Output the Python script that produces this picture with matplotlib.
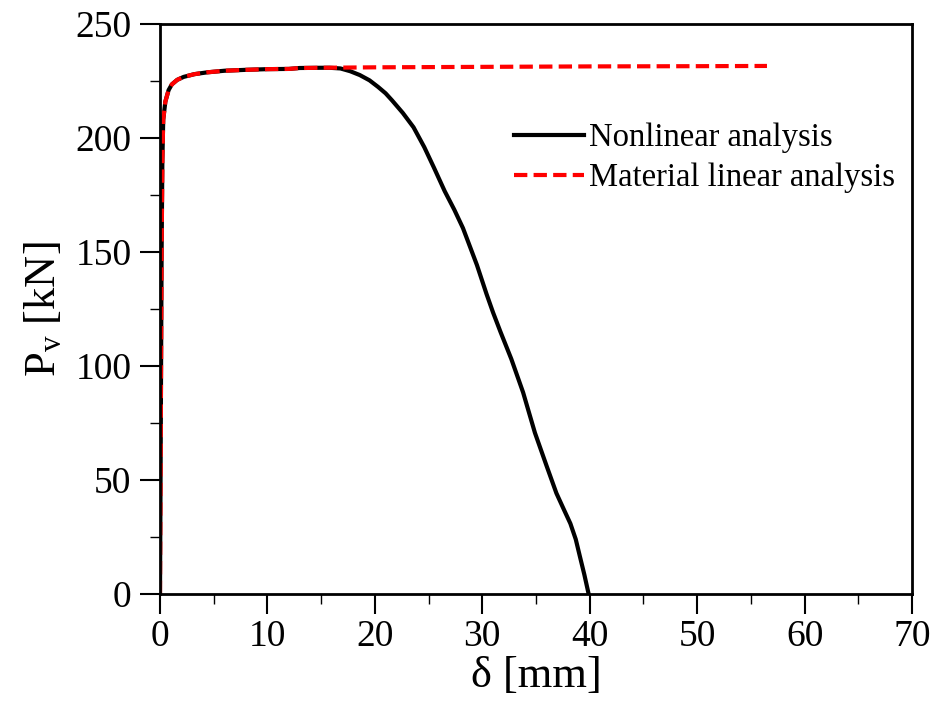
import matplotlib.pyplot as plt
from matplotlib.ticker import MultipleLocator

plt.rcParams['font.family'] = ['Liberation Serif', 'DejaVu Serif']
plt.rcParams['mathtext.fontset'] = 'custom'
plt.rcParams['mathtext.rm'] = 'Liberation Serif'
plt.rcParams['mathtext.it'] = 'Liberation Serif:italic'

# Nonlinear analysis
x_nl = [0, 0.05, 0.1, 0.15, 0.22, 0.3, 0.5, 0.8, 1.1, 1.6, 2.2, 3.2, 4.4, 6, 8, 10,
        12, 13, 15, 15.8, 16.8, 17.7, 18.6, 19.5, 20.3, 21.0, 21.6, 22.6, 23.6, 24.6,
        25.5, 26.5, 27.4, 28.2, 29.5, 30.4, 31.0, 31.7, 32.7, 33.8, 34.9, 36.0, 36.9,
        37.6, 38.2, 38.7, 39.1, 39.5, 39.9]
y_nl = [0, 50, 100, 150, 190, 208, 216, 221, 223.5, 225.5, 226.8, 228, 228.8, 229.5, 229.9, 230.2,
        230.3, 230.7, 230.8, 230.8, 230.5, 229.3, 227.6, 225.3, 222.4, 219.6, 216.5, 211.0, 204.7, 196.0,
        187.0, 176.7, 168.5, 160.5, 144.3, 131.5, 123.5, 114.9, 103.1, 88.4, 70.7, 56, 44.2,
        37.0, 30.9, 24.0, 16.2, 8.5, 0]

# Material linear analysis
x_ml = [0, 0.05, 0.1, 0.15, 0.22, 0.3, 0.5, 0.8, 1.1, 1.6, 2.2, 3.2, 4.4, 6, 8, 10,
        12, 13, 15, 20, 30, 40, 50, 56.5]
y_ml = [0, 50, 100, 150, 190, 208, 216, 221, 223.5, 225.5, 226.8, 228, 228.8, 229.5, 229.9, 230.2,
        230.3, 230.7, 230.8, 231.0, 231.2, 231.4, 231.5, 231.6]

fig = plt.figure(figsize=(9.38, 7.26), dpi=100)
ax = fig.add_axes([160/938, 1 - 594/726, 752/938, 570/726])

ax.plot(x_nl, y_nl, color='black', linewidth=3, label='Nonlinear analysis')
ax.plot(x_ml, y_ml, color='red', linewidth=3, dashes=(3.2, 1.5), label='Material linear analysis')

ax.set_xlim(0, 70)
ax.set_ylim(0, 250)
ax.xaxis.set_major_locator(MultipleLocator(10))
ax.xaxis.set_minor_locator(MultipleLocator(5))
ax.yaxis.set_major_locator(MultipleLocator(50))
ax.yaxis.set_minor_locator(MultipleLocator(25))

ax.tick_params(which='major', direction='out', length=14.5, width=1.5, labelsize=27,
               top=False, right=False)
ax.tick_params(axis='y', which='major', pad=6)
ax.tick_params(axis='x', which='major', pad=4)
ax.tick_params(which='minor', direction='out', length=7.5, width=1.0, top=False, right=False)
for s in ax.spines.values():
    s.set_linewidth(2)

ax.set_xlabel('δ [mm]', fontsize=32, labelpad=1)
ax.set_ylabel(r'P$_\mathrm{v}$ [kN]', fontsize=32, labelpad=8)

ax.legend(loc='upper right', bbox_to_anchor=(0.995, 0.85), frameon=False, fontsize=23.5,
          handlelength=2.15, handletextpad=0.15, labelspacing=0.3, borderaxespad=0)

plt.savefig('out.png', dpi=100)
